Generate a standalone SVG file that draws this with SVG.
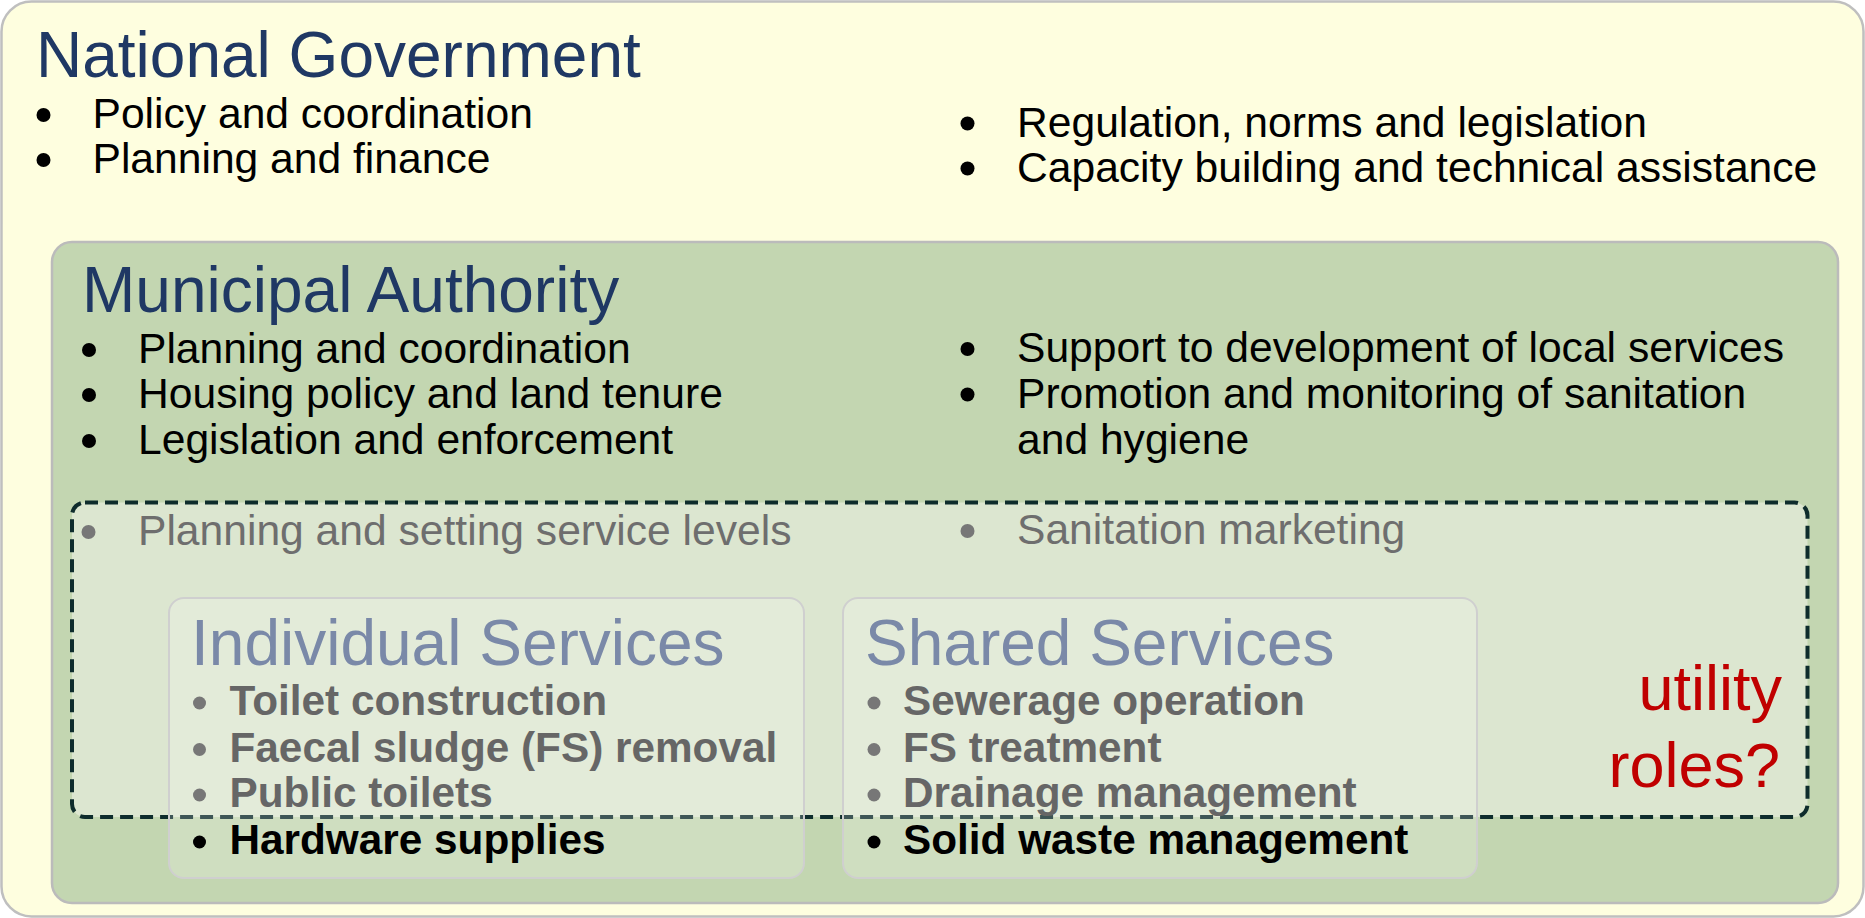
<svg xmlns="http://www.w3.org/2000/svg" width="1865" height="918" viewBox="0 0 1865 918">
<style>
text{font-family:"Liberation Sans",Arial,sans-serif}
.title{font-size:64px;fill:#1F3864}
.sub{font-size:64px;fill:#7A89A8}
.b{font-size:42.6px;fill:#000}
.g{font-size:42.6px;fill:#6E6E6E}
.sb{font-size:42.3px;font-weight:bold;fill:#666}
.sk{font-size:42.3px;font-weight:bold;fill:#000}
.dot{fill:#000}
.gdot{fill:#777}
.box{fill:#fff;fill-opacity:0.2;stroke:#CFCFCF;stroke-width:2}
.red{font-size:63px;fill:#C00000;text-anchor:end}
</style>
<g id="national-government">
<rect x="1.5" y="1.5" width="1862" height="915" rx="30" fill="#FEFEDF" stroke="#BFBFBF" stroke-width="2.5"/>
<text class="title" x="36" y="77">National Government</text>
<circle class="dot" cx="43.5" cy="115" r="7"/>
<circle class="dot" cx="43.5" cy="160" r="7"/>
<text class="b" x="92.5" y="128">Policy and coordination</text>
<text class="b" x="92.5" y="173">Planning and finance</text>
<circle class="dot" cx="967.5" cy="123.5" r="7"/>
<circle class="dot" cx="967.5" cy="168.5" r="7"/>
<text class="b" x="1017" y="136.5">Regulation, norms and legislation</text>
<text class="b" x="1017" y="181.5">Capacity building and technical assistance</text>
</g>
<g id="municipal-authority">
<rect x="52" y="242" width="1786" height="661" rx="20" fill="#C3D6B1" stroke="#BBBBBB" stroke-width="2.5"/>
<text class="title" x="82" y="312">Municipal Authority</text>
<circle class="dot" cx="89" cy="350" r="7"/>
<circle class="dot" cx="89" cy="395" r="7"/>
<circle class="dot" cx="89" cy="441" r="7"/>
<text class="b" x="138" y="363">Planning and coordination</text>
<text class="b" x="138" y="408">Housing policy and land tenure</text>
<text class="b" x="138" y="454">Legislation and enforcement</text>
<circle class="dot" cx="967.5" cy="349" r="7"/>
<circle class="dot" cx="967.5" cy="394.5" r="7"/>
<text class="b" x="1017" y="362">Support to development of local services</text>
<text class="b" x="1017" y="407.5">Promotion and monitoring of sanitation</text>
<text class="b" x="1017" y="453.5">and hygiene</text>
</g>
<g id="utility-roles">
<rect x="72" y="502.5" width="1735.5" height="314.5" rx="13" fill="#DCE6D0" stroke="#0E2C2C" stroke-width="4" stroke-dasharray="13 7"/>
<circle class="gdot" cx="88.5" cy="532" r="7"/>
<text class="g" x="138" y="545">Planning and setting service levels</text>
<circle class="gdot" cx="967.5" cy="531" r="7"/>
<text class="g" x="1017" y="544">Sanitation marketing</text>
<text class="red" x="1782" y="710">utility</text>
<text class="red" x="1780" y="787">roles?</text>
</g>
<g id="individual-services">
<rect class="box" x="169" y="598" width="635" height="280" rx="15"/>
<text class="sub" x="191" y="665">Individual Services</text>
<circle class="gdot" cx="199.5" cy="703" r="6.5"/>
<circle class="gdot" cx="199.5" cy="749.5" r="6.5"/>
<circle class="gdot" cx="199.5" cy="795" r="6.5"/>
<circle class="dot" cx="199.5" cy="842" r="6.5"/>
<text class="sb" x="229.5" y="715">Toilet construction</text>
<text class="sb" x="229.5" y="761.5">Faecal sludge (FS) removal</text>
<text class="sb" x="229.5" y="807">Public toilets</text>
<text class="sk" x="229.5" y="854">Hardware supplies</text>
</g>
<g id="shared-services">
<rect class="box" x="843" y="598" width="634" height="280" rx="15"/>
<text class="sub" x="865" y="665">Shared Services</text>
<circle class="gdot" cx="874" cy="703" r="6.5"/>
<circle class="gdot" cx="874" cy="749.5" r="6.5"/>
<circle class="gdot" cx="874" cy="795" r="6.5"/>
<circle class="dot" cx="874" cy="842" r="6.5"/>
<text class="sb" x="903" y="715">Sewerage operation</text>
<text class="sb" x="903" y="761.5">FS treatment</text>
<text class="sb" x="903" y="807">Drainage management</text>
<text class="sk" x="903" y="854">Solid waste management</text>
</g>
<g id="connectors"/>
</svg>
